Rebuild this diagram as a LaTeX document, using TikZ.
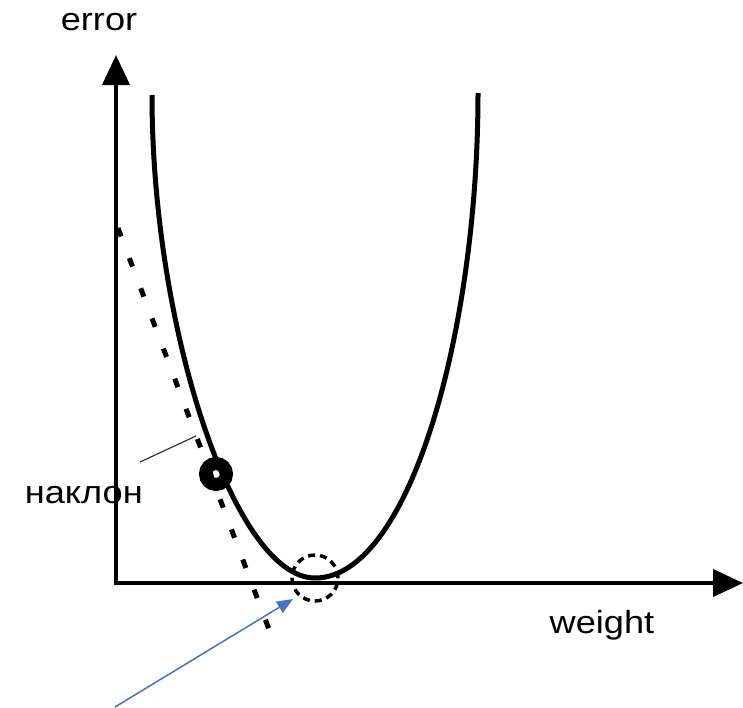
\documentclass[tikz,border=0pt]{standalone}
\usepackage{fontspec}
\setmainfont{Liberation Sans}[FakeStretch=1.13]
\usetikzlibrary{arrows.meta}
\definecolor{arrowblue}{RGB}{68,114,196}
\begin{document}
\begin{tikzpicture}[x=1pt,y=-1pt,
  axis/.style={line width=4pt, line join=miter,
    {Triangle[length=30pt,width=27pt]}-{Triangle[length=30pt,width=27pt]}},
  curve/.style={line width=5pt},
  tangentline/.style={line width=5pt, dash pattern=on 9pt off 23.2pt},
  leader/.style={line width=1.2pt, black!80},
  ball/.style={circle, draw, line width=13pt, minimum size=21pt, inner sep=0pt},
  target/.style={circle, draw, line width=3.5pt, dash pattern=on 7pt off 5pt, minimum size=46pt, inner sep=0pt},
  pointer/.style={arrowblue, line width=1.5pt, -{Triangle[length=16pt,width=13pt]}},
  lbl/.style={font=\fontsize{32}{38}\selectfont, inner sep=0pt}]
\useasboundingbox (0,0) rectangle (743,707);
\fill[white] (0,0) rectangle (743,707);
% coordinates
\coordinate (O) at (116,583);
\coordinate (ytip) at (116,55);
\coordinate (xtip) at (743,583);
\coordinate (L) at (152,95);
\coordinate (M) at (315,578);
\coordinate (R) at (478,93);
\coordinate (tA) at (118,228);
\coordinate (tB) at (270,632);
\coordinate (lA) at (140,462);
\coordinate (lB) at (196,436);
\coordinate (pS) at (115,707);
\coordinate (pE) at (293,599);
% axes
\draw[axis] (ytip) -- (O) -- (xtip);
% tangent
\draw[tangentline] (tA) -- (tB);
% error curve
\draw[curve] (L) .. controls (152,330) and (235,578) .. (M)
  .. controls (410,578) and (478,330) .. (R);
% leader line
\draw[leader] (lA) -- (lB);
% ball and target
\node[ball] (ball) at (216,474) {};
\node[target] (goal) at (315,578) {};
% pointer
\draw[pointer] (pS) -- (pE);
% labels
\node[lbl, anchor=base] (error) at (99,30) {error};
\node[lbl, anchor=base] (weight) at (602,633) {weight};
\node[lbl, anchor=base east] (slope) at (143,503) {наклон};
\end{tikzpicture}
\end{document}
